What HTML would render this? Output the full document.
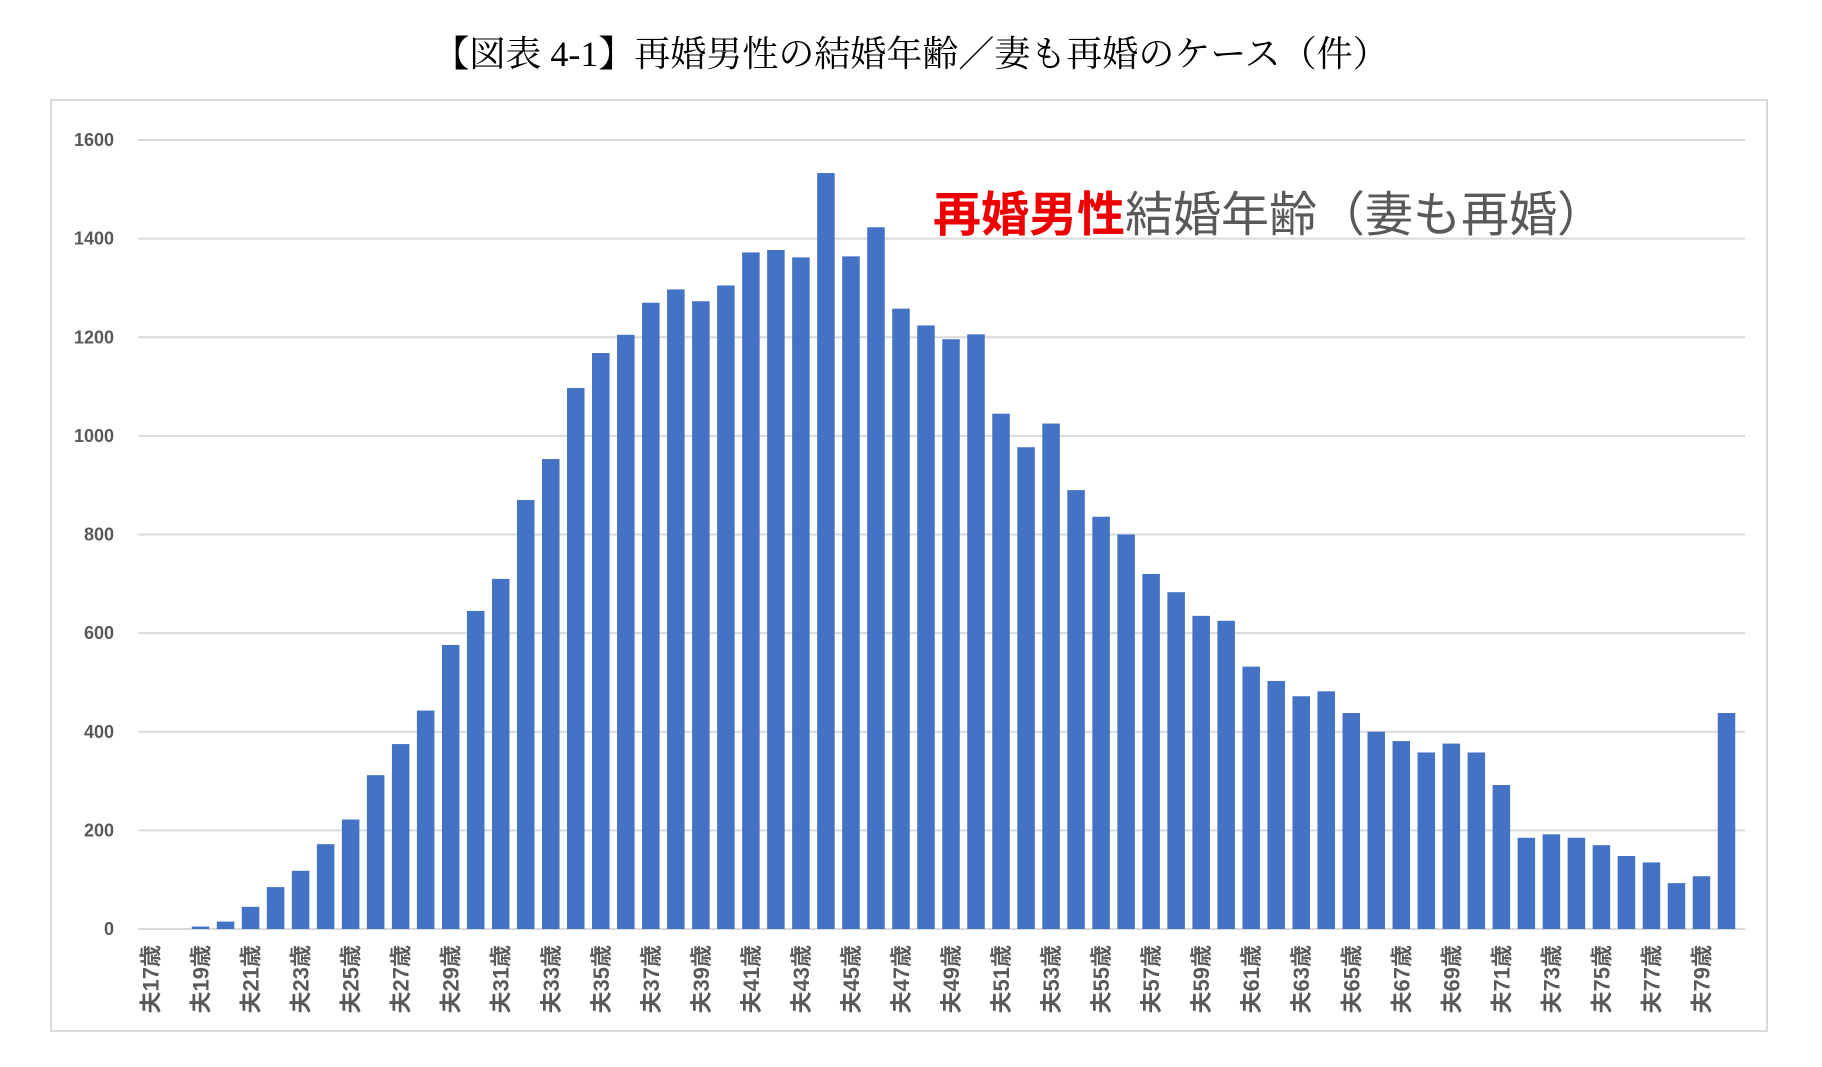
<!DOCTYPE html>
<html><head><meta charset="utf-8">
<style>
html,body{margin:0;padding:0;background:#fff;}
body{width:1822px;height:1067px;position:relative;overflow:hidden;font-family:"Liberation Sans","Noto Sans CJK JP",sans-serif;}
#title{position:absolute;left:0;width:1822px;top:26px;text-align:center;font-family:"Liberation Serif","Noto Serif CJK JP",serif;font-size:36px;color:#000;}
#frame{position:absolute;left:50px;top:99px;width:1718px;height:933px;border:2px solid #d9d9d9;box-sizing:border-box;}
svg{position:absolute;left:0;top:0;}
</style></head>
<body>
<div id="title">【図表 4-1】再婚男性の結婚年齢／妻も再婚のケース（件）</div>
<div id="frame"></div>
<svg id="chart" width="1822" height="1067">
<text x="933" y="231" font-size="48" font-family="Liberation Sans, Noto Sans CJK JP, sans-serif"><tspan fill="#ee0000" font-weight="bold">再婚男性</tspan><tspan fill="#595959">結婚年齢（妻も再婚）</tspan></text>
</svg>
<script>
const ages = [];
for (let a = 17; a <= 80; a++) ages.push(a);
const counts = [0,0,5,15,45,85,118,172,222,312,375,443,576,645,710,870,953,1097,1168,1205,1270,1297,1273,1305,1372,1377,1362,1533,1364,1423,1258,1224,1196,1206,1045,977,1025,890,836,800,720,683,635,625,532,503,472,482,438,400,381,358,376,358,292,185,192,185,170,148,135,93,107,438];
const yTicks = [0,200,400,600,800,1000,1200,1400,1600];

const svg = document.getElementById('chart');
const NS = 'http://www.w3.org/2000/svg';
const x0 = 138, x1 = 1745, yZero = 929, yTop = 140, yMax = 1600;
const barsRight = 1739;
const band = (barsRight - x0) / ages.length;
const yScale = v => yZero - v / yMax * (yZero - yTop);
const xScale = i => x0 + i * band;

yTicks.forEach(t => {
  const y = yScale(t);
  const l = document.createElementNS(NS, 'line');
  l.setAttribute('x1', x0); l.setAttribute('x2', x1);
  l.setAttribute('y1', y); l.setAttribute('y2', y);
  l.setAttribute('stroke', '#d9d9d9'); l.setAttribute('stroke-width', '2');
  
  
  svg.appendChild(l);
  const tx = document.createElementNS(NS, 'text');
  tx.setAttribute('x', 114); tx.setAttribute('y', y + 6);
  tx.setAttribute('text-anchor', 'end');
  tx.setAttribute('font-size', '18'); tx.setAttribute('font-weight', 'bold');
  tx.setAttribute('fill', '#595959');
  tx.textContent = t;
  
  
  svg.appendChild(tx);
});

const bw = band * 0.7;
counts.forEach((v, i) => {
  const r = document.createElementNS(NS, 'rect');
  const y = yScale(v);
  r.setAttribute('x', xScale(i) + (band - bw) / 2);
  r.setAttribute('y', y);
  r.setAttribute('width', bw);
  r.setAttribute('height', Math.max(0, yZero - y));
  r.setAttribute('fill', '#4472c4');
  
  
  svg.appendChild(r);
  if (i % 2 === 0) {
    const cx = xScale(i) + band / 2 + 8;
    const t = document.createElementNS(NS, 'text');
    t.setAttribute('transform', 'translate(' + cx + ',945) rotate(-90)');
    t.setAttribute('text-anchor', 'end');
    t.setAttribute('font-size', '22');
    t.setAttribute('font-weight', 'bold');
    t.setAttribute('fill', '#595959');
    t.textContent = '夫' + ages[i] + '歳';
    
    
    svg.appendChild(t);
  }
});
</script>
</body></html>
